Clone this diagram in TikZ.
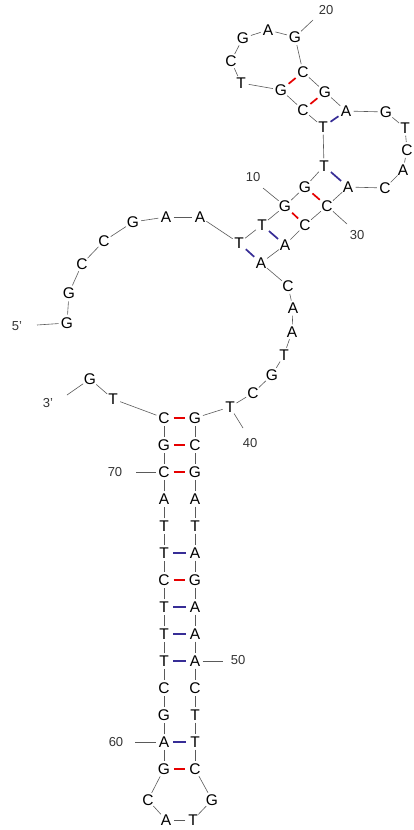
\documentclass[tikz,border=0pt]{standalone}
\usepackage{fontspec}
\setmainfont{Liberation Sans}
\definecolor{pairred}{RGB}{230,0,0}
\definecolor{pairblue}{RGB}{55,45,150}
\definecolor{bbgray}{RGB}{90,90,90}
\begin{document}
\begin{tikzpicture}[x=1pt,y=-1pt,
  base/.style={circle,inner sep=0pt,minimum size=15pt,font=\fontsize{15.5}{17}\selectfont},
  bb/.style={draw=bbgray,line width=0.6pt},
  gcpair/.style={draw=pairred,line width=1.7pt,shorten <=1.5pt,shorten >=1.5pt},
  atpair/.style={draw=pairblue,line width=1.7pt,shorten <=1.5pt,shorten >=1.5pt},
  lab/.style={font=\fontsize{13}{15}\selectfont,text=black!80,inner sep=1pt},
  tick/.style={draw=bbgray,line width=0.6pt}]
\useasboundingbox (0,0) rectangle (414,830);
\foreach \n/\x/\y/\l in {
 1/67/323/G, 2/69/293/G, 3/82/264/C, 4/104/241/C, 5/133/222/G,
 6/166/217/A, 7/200/217/A, 8/239/243/T, 9/262/225/T, 10/285/206/G,
 11/305/187/G, 12/324/166/T, 13/323/127/T, 14/303/110/C, 15/281/90/G,
 16/241/83/T, 17/231/61/C, 18/243/38/G, 19/268/30/A, 20/295/37/G,
 21/303/72/C, 22/325/92/G, 23/346/111/A, 24/386/112/G, 25/405/128/T,
 26/407/150/C, 27/403/170/A, 28/385/188/C, 29/348/187/A, 30/327/206/C,
 31/305/225/C, 32/285/245/A, 33/261/263/A, 34/288/286/C, 35/293/308/A,
 36/292/332/A, 37/284/355/T, 38/272/375/G, 39/253/393/C, 40/230/407/T,
 41/195/418/G, 42/195/445/C, 43/195/472/G, 44/195/499/A, 45/195/526/T,
 46/195/553/A, 47/195/580/G, 48/195/607/A, 49/195/634/A, 50/195/661/A,
 51/195/688/C, 52/195/715/T, 53/195/742/T, 54/195/769/C, 55/212/800/G,
 56/193/820/T, 57/166/820/A, 58/148/800/C, 59/164/769/G, 60/164/742/A,
 61/164/715/G, 62/164/688/C, 63/164/661/T, 64/164/634/T, 65/164/607/T,
 66/164/580/C, 67/164/553/T, 68/164/526/T, 69/164/499/A, 70/164/472/C,
 71/164/445/G, 72/164/418/C, 73/113/399/T, 74/90/379/G}
  {\node[base] (b\n) at (\x,\y) {\l};}
\foreach \i in {1,...,73}{\pgfmathtruncatemacro\j{\i+1}\draw[bb] (b\i) -- (b\j);}
\foreach \a/\b in {10/31,11/30,14/22,15/21,72/41,71/42,70/43,66/47,59/54}
  {\draw[gcpair] (b\a) -- (b\b);}
\foreach \a/\b in {8/33,9/32,12/29,13/23,67/46,65/48,64/49,63/50,60/53}
  {\draw[atpair] (b\a) -- (b\b);}
% numbering labels
\node[lab] (l20) at (326,10) {20};
\node[lab] (l10) at (253,177) {10};
\node[lab] (l30) at (357,235) {30};
\node[lab] (l40) at (250,443) {40};
\node[lab] (l50) at (238,660) {50};
\node[lab] (l60) at (116,742) {60};
\node[lab] (l70) at (115,472) {70};
\node[lab] (l5) at (17,326) {5'};
\node[lab] (l3) at (48,403) {3'};
\coordinate (t20) at (313,20);
\coordinate (t10) at (263,188);
\coordinate (t30) at (347,224);
\coordinate (t40) at (243,428);
\coordinate (t50) at (223,661);
\coordinate (t60) at (135,742);
\coordinate (t70) at (136,472);
\coordinate (t5) at (37,325);
\coordinate (t3) at (67,395);
\draw[tick] (t20) -- (b20);
\draw[tick] (t10) -- (b10);
\draw[tick] (b30) -- (t30);
\draw[tick] (b40) -- (t40);
\draw[tick] (b50) -- (t50);
\draw[tick] (t60) -- (b60);
\draw[tick] (t70) -- (b70);
\draw[tick] (t5) -- (b1);
\draw[tick] (t3) -- (b74);
\end{tikzpicture}
\end{document}
